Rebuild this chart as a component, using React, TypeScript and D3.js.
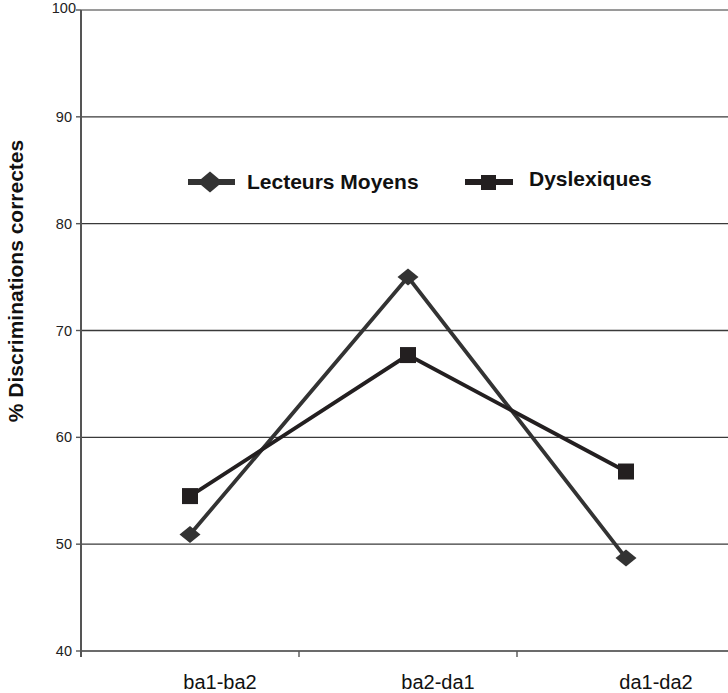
import React from "react";
import * as d3 from "d3";

const categories = ["ba1-ba2", "ba2-da1", "da1-da2"];
const lecteursMoyens = [50.9, 75.0, 48.7];
const dyslexiques = [54.5, 67.7, 56.8];
const yTicks = [40, 50, 60, 70, 80, 90, 100];
const seriesNames = ["Lecteurs Moyens", "Dyslexiques"];
const yTitle = "% Discriminations correctes";

const W = 728;
const H = 693;
const left = 81;
const right = 735;
const top = 10;
const bottom = 651;

export default function App() {
  const x = d3.scaleBand<string>().domain(categories).range([left, right]).paddingInner(0).paddingOuter(0);
  const y = d3.scaleLinear().domain([40, 100]).range([bottom, top]);
  const cx = (c: string) => (x(c) as number) + x.bandwidth() / 2;
  const line = d3
    .line<number>()
    .x((_, i) => cx(categories[i]))
    .y((d) => y(d));
  const font = "'Liberation Sans', Arial, sans-serif";
  const diamond = (px: number, py: number, w: number, h: number) =>
    `M${px - w / 2},${py} L${px},${py - h / 2} L${px + w / 2},${py} L${px},${py + h / 2} Z`;
  const boundaries = [left, ...categories.slice(1).map((c) => x(c) as number)];

  return (
    <svg
      width={W}
      height={H}
      style={{ position: "absolute", left: 0, top: 0, background: "#fff" }}
      fontFamily={font}
    >
      {yTicks.map((t) => (
        <line
          key={"g" + t}
          x1={left}
          x2={right}
          y1={y(t)}
          y2={y(t)}
          stroke={t === 100 ? "#9a9a9a" : "#3a3a3a"}
          strokeWidth={t === 100 ? 2 : 1.4}
        />
      ))}
      <line x1={left} x2={left} y1={top} y2={bottom + 6} stroke="#555" strokeWidth={2} />
      {yTicks.map((t) => (
        <g key={"t" + t}>
          <line x1={left - 5} x2={left} y1={y(t)} y2={y(t)} stroke="#555" strokeWidth={1.4} />
          <text x={t === 100 ? 76 : 72} y={y(t) + (t === 100 ? 3 : 5)} textAnchor="end" fontSize={14.5} fill="#222">
            {t}
          </text>
        </g>
      ))}
      {boundaries.map((b, i) => (
        <line key={"xt" + i} x1={b} x2={b} y1={bottom} y2={bottom + 6} stroke="#555" strokeWidth={1.4} />
      ))}
      {categories.map((c) => (
        <text key={c} x={cx(c) + 30} y={689} textAnchor="middle" fontSize={20} fill="#111">
          {c}
        </text>
      ))}
      <text
        transform={`translate(23,281) rotate(-90)`}
        textAnchor="middle"
        fontSize={21}
        fontWeight="bold"
        fill="#111"
      >
        {yTitle}
      </text>
      <path d={line(lecteursMoyens) || ""} fill="none" stroke="#333" strokeWidth={3.8} />
      <path d={line(dyslexiques) || ""} fill="none" stroke="#231f20" strokeWidth={3.8} />
      {lecteursMoyens.map((v, i) => (
        <path key={"lm" + i} d={diamond(cx(categories[i]), y(v), 21, 17)} fill="#333" />
      ))}
      {dyslexiques.map((v, i) => (
        <rect key={"dy" + i} x={cx(categories[i]) - 8} y={y(v) - 8} width={16} height={16} fill="#231f20" />
      ))}
      <g>
        <line x1={188} x2={235} y1={182} y2={182} stroke="#333" strokeWidth={6} />
        <path d={diamond(210, 182, 25, 21)} fill="#333" />
        <text x={247} y={189} fontSize={21} fontWeight="bold" fill="#111">
          {seriesNames[0]}
        </text>
        <line x1={465} x2={513} y1={182} y2={182} stroke="#231f20" strokeWidth={6} />
        <rect x={481} y={175} width={15} height={15} fill="#231f20" />
        <text x={529} y={186} fontSize={21} fontWeight="bold" fill="#111">
          {seriesNames[1]}
        </text>
      </g>
    </svg>
  );
}
